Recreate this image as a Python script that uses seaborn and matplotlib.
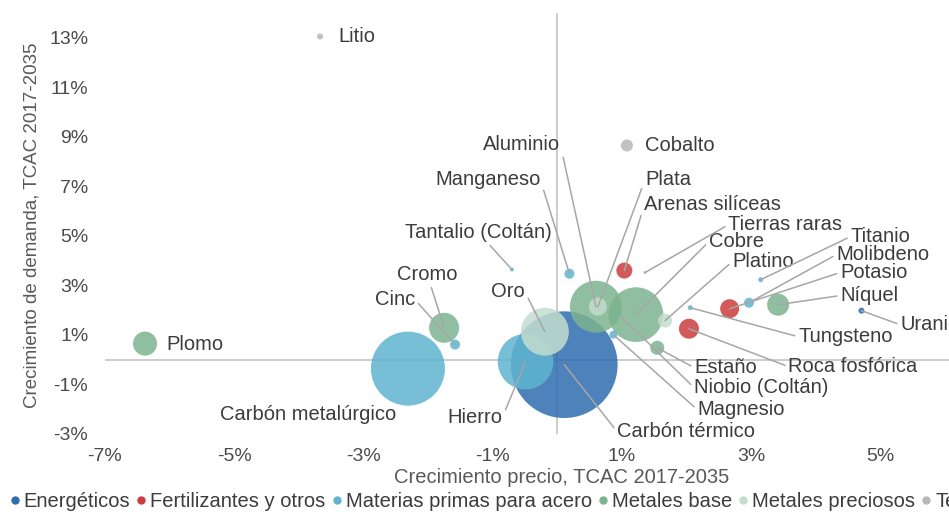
import pandas as pd
import numpy as np
import matplotlib.pyplot as plt
import seaborn as sns
from matplotlib.lines import Line2D
from matplotlib.colors import Normalize

# --- datos ---
minerales = ['Carbón térmico', 'Carbón metalúrgico', 'Hierro', 'Aluminio', 'Cobre', 'Oro',
             'Cromo', 'Plomo', 'Níquel', 'Roca fosfórica', 'Potasio', 'Arenas silíceas',
             'Plata', 'Platino', 'Estaño', 'Cobalto', 'Manganeso', 'Cinc', 'Molibdeno',
             'Magnesio', 'Tungsteno', 'Titanio', 'Tantalio (Coltán)', 'Uranio', 'Litio',
             'Tierras raras', 'Niobio (Coltán)']
categoria = ['Energéticos', 'Materias primas para acero', 'Materias primas para acero',
             'Metales base', 'Metales base', 'Metales preciosos', 'Metales base', 'Metales base',
             'Metales base', 'Fertilizantes y otros', 'Fertilizantes y otros',
             'Fertilizantes y otros', 'Metales preciosos', 'Metales preciosos', 'Metales base',
             'Tecnológicos', 'Materias primas para acero', 'Materias primas para acero',
             'Materias primas para acero', 'Materias primas para acero',
             'Materias primas para acero', 'Materias primas para acero',
             'Materias primas para acero', 'Energéticos', 'Tecnológicos', 'Tecnológicos',
             'Materias primas para acero']
crec_precio = [0.11, -2.31, -0.49, 0.60, 1.22, -0.19, -1.75, -6.38, 3.42, 2.04, 2.67, 1.04,
               0.63, 1.67, 1.55, 1.08, 0.19, -1.58, 2.97, 0.87, 2.06, 3.15, -0.70, 4.71,
               -3.67, 1.36, 0.97]
crec_demanda = [-0.2, -0.36, -0.08, 2.14, 1.82, 1.13, 1.29, 0.65, 2.22, 1.25, 2.06, 3.6,
                2.14, 1.58, 0.48, 8.65, 3.47, 0.61, 2.3, 1.01, 2.1, 3.23, 3.64, 1.98,
                13.05, 3.52, 1.8]
tamano = [5900, 2840, 1600, 1400, 1550, 1190, 467, 299, 251, 207, 187, 133,
          168, 102, 102, 75, 52, 52, 52, 33, 13, 13, 8, 19, 19, 5, 5]

# posición de etiquetas (x, y, alineación)
etiqueta_x = [0.93, -3.85, -0.85, 0.05, 2.35, -0.50, -2.01, -6.05, 4.38, 3.58, 4.38, 1.35,
              1.36, 2.71, 2.12, 1.36, -0.26, -2.2, 4.32, 2.17, 3.73, 4.54, -1.22, 5.31,
              -3.39, 2.65, 2.12]
etiqueta_y = [-2.91, -2.22, -2.34, 8.69, 4.77, 2.75, 3.43, 0.61, 2.59, -0.28, 3.52, 6.26,
              7.27, 3.96, -0.32, 8.65, 7.27, 2.42, 4.24, -2.02, 0.93, 4.97, 5.13, 1.41,
              13.05, 5.45, -1.13]
etiqueta_ha = ['left', 'center', 'right', 'right', 'left', 'right', 'center', 'left', 'left',
               'left', 'left', 'left', 'left', 'left', 'left', 'left', 'right', 'right',
               'left', 'left', 'left', 'left', 'center', 'left', 'left', 'left', 'left']
sin_linea = ['Carbón metalúrgico', 'Plomo', 'Cobalto', 'Litio']

categorias = ['Energéticos', 'Fertilizantes y otros', 'Materias primas para acero',
              'Metales base', 'Metales preciosos', 'Tecnológicos']
colores = ['#2f6cb0', '#cc3d3d', '#5fb4d0', '#7db38f', '#c3ddcf', '#b8b8b8']

df = pd.DataFrame({'Mineral': minerales, 'Categoria': categoria, 'Precio': crec_precio,
                   'Demanda': crec_demanda, 'Tamano': tamano})

sns.set_theme(style='white')
plt.rcParams['font.family'] = ['Liberation Sans', 'DejaVu Sans']

fig = plt.figure(figsize=(9.49, 5.13), dpi=100)
ax = fig.add_axes([0.1106, 0.154, 0.953, 0.8207])

ax.axhline(0, color='#c8c8c8', lw=1.3, zorder=0)
ax.axvline(0, color='#c8c8c8', lw=1.3, zorder=0)

paleta = dict(zip(categorias, colores))
sns.scatterplot(data=df, x='Precio', y='Demanda', hue='Categoria', palette=paleta,
                size='Tamano', sizes=(min(tamano), max(tamano)),
                size_norm=Normalize(min(tamano), max(tamano)),
                alpha=0.85, linewidth=0, legend=False, ax=ax, zorder=2)

fs = 14.5
for i, nombre in enumerate(minerales):
    props = None
    if nombre not in sin_linea:
        rel = {'left': (0, 0.5), 'right': (1, 0.5), 'center': (0.5, 0.5)}[etiqueta_ha[i]]
        props = dict(arrowstyle='-', color='#a6a6a6', lw=1.1, shrinkA=0, shrinkB=0,
                     relpos=rel)
    ax.annotate(nombre, xy=(crec_precio[i], crec_demanda[i]),
                xytext=(etiqueta_x[i], etiqueta_y[i]), ha=etiqueta_ha[i], va='center',
                fontsize=fs, color='#3c3c3c', arrowprops=props, zorder=3)

ax.set_xlim(-7, 7)
ax.set_ylim(-3, 14)
ax.set_xticks(np.arange(-7, 6, 2))
ax.set_yticks(np.arange(-3, 14, 2))
ax.set_xticklabels([f'{v}%' for v in range(-7, 6, 2)])
ax.set_yticklabels([f'{v}%' for v in range(-3, 14, 2)])
ax.tick_params(axis='both', length=0, labelsize=14, colors='#4a4a4a')
ax.tick_params(axis='y', pad=12)
ax.tick_params(axis='x', pad=10)
for s in ax.spines.values():
    s.set_visible(False)
ax.set_xlabel('')
ax.set_ylabel('')

fig.text(0.592, 0.069, 'Crecimiento precio, TCAC 2017-2035', ha='center', va='center',
         fontsize=14.5, color='#595959')
fig.text(0.034, 0.561, 'Crecimiento de demanda, TCAC 2017-2035', ha='center', va='center',
         rotation=90, fontsize=13.5, color='#595959')

handles = [Line2D([], [], marker='o', ls='', color=c, markersize=5) for c in colores]
fig.legend(handles, categorias, loc='lower left', bbox_to_anchor=(0.0015, -0.011), ncol=6,
           frameon=False, fontsize=fs, handlelength=0.5, handletextpad=0.2,
           columnspacing=0.3, borderaxespad=0, labelcolor='#3c3c3c')

fig.savefig('out.png', dpi=100)
